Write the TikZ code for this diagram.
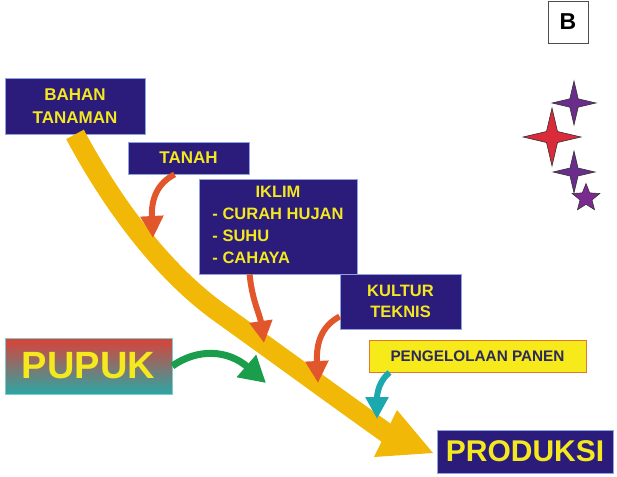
\documentclass[tikz,border=0pt]{standalone}
\usepackage{fontspec}
\setmainfont{Liberation Sans}
\usetikzlibrary{arrows.meta,shapes.geometric}
\definecolor{navy}{HTML}{2B1B7A}
\definecolor{boxedge}{HTML}{8FA4DE}
\definecolor{ylw}{HTML}{F4E81F}
\definecolor{gold}{HTML}{F2B808}
\definecolor{orng}{HTML}{E2562B}
\definecolor{grn}{HTML}{1B9E4B}
\definecolor{tealc}{HTML}{1BA8AE}
\definecolor{pupuktop}{HTML}{DA4238}
\definecolor{pupukbot}{HTML}{2BA6A6}
\definecolor{pengfill}{HTML}{F6EA1A}
\definecolor{pengedge}{HTML}{E07A2A}
\definecolor{pengtext}{HTML}{2B2A5A}
\definecolor{starpurple}{HTML}{6B2D8C}
\definecolor{starred}{HTML}{D92B3A}
\definecolor{starmag}{HTML}{7B2A90}
\tikzset{
  navybox/.style={draw=boxedge, line width=0.8pt, fill=navy, text=ylw, inner sep=0pt, align=center},
  smallarr/.style={line width=6pt, -{Triangle[length=22pt,width=22pt]}},
  pics/fourstar/.style={code={\draw[line width=0.6pt,draw=black!80,fill=#1]
     (0,-1)--(0.19,-0.19)--(1,0)--(0.19,0.19)--(0,1)--(-0.19,0.19)--(-1,0)--(-0.19,-0.19)--cycle;}}
}
\begin{document}
\begin{tikzpicture}[x=1pt,y=-1pt]
\useasboundingbox (0,0) rectangle (617,476);

% boxes
\node[navybox, minimum width=140pt, minimum height=56pt, font=\fontsize{17}{23}\selectfont\bfseries] (bahan) at (75,106) {BAHAN\\TANAMAN};
\node[navybox, minimum width=121pt, minimum height=32pt, font=\fontsize{17}{20}\selectfont\bfseries] (tanah) at (188.5,158) {TANAH};
\node[navybox, minimum width=158pt, minimum height=95pt, font=\fontsize{16.5}{22.5}\selectfont\bfseries] (iklim) at (278,226.5)
  {\renewcommand{\arraystretch}{0.98}\begin{tabular}{@{}l@{}}\multicolumn{1}{@{}c@{}}{IKLIM}\\- CURAH HUJAN\\- SUHU\\- CAHAYA\end{tabular}};
\node[navybox, minimum width=121pt, minimum height=55pt, font=\fontsize{16.5}{21}\selectfont\bfseries] (kultur) at (400.5,301.5) {KULTUR\\TEKNIS};
\node[draw=pupukbot!60, line width=0.6pt, shade, top color=pupuktop, bottom color=pupukbot, text=ylw, inner sep=0pt,
      minimum width=167pt, minimum height=56pt, font=\fontsize{38}{40}\selectfont\bfseries] (pupuk) at (88.5,366) {PUPUK};
\node[draw=pengedge, line width=1pt, fill=pengfill, text=pengtext, inner sep=0pt,
      minimum width=217pt, minimum height=32pt, font=\fontsize{15.3}{18}\selectfont\bfseries] (peng) at (477.5,356) {PENGELOLAAN PANEN};
\node[navybox, minimum width=176pt, minimum height=43pt, font=\fontsize{30}{32}\selectfont\bfseries] (produksi) at (525,451.5) {PRODUKSI};
\node[draw=black!70, line width=0.8pt, fill=white, inner sep=0pt, minimum width=40pt, minimum height=42pt,
      font=\fontsize{23}{25}\selectfont\bfseries] (b) at (568,22) {B};

% big yellow arrow
\coordinate (headbase) at (388,434);
\coordinate (htop) at (397,410);
\coordinate (hbot) at (374,457);
\coordinate (htip) at (433,453);
\draw[gold, line width=20pt] (bahan.south) .. controls (110,200) and (160,270) .. (220,313)
   .. controls (280,356) and (340,400) .. (headbase);
\fill[gold] (htop) -- (htip) -- (hbot) -- cycle;

% small arrows
\coordinate (tTanah) at (153,238);
\coordinate (tIklim) at (264,343);
\coordinate (tKultur) at (318,383);
\coordinate (tPeng) at (377,419);
\coordinate (tPupuk) at (266,383);
\draw[smallarr, orng] ([xshift=47pt]tanah.south west) .. controls (158,183) and (151,198) .. (tTanah);
\draw[smallarr, orng] ([xshift=51pt]iklim.south west) .. controls (252,300) and (260,315) .. (tIklim);
\draw[smallarr, orng] ([yshift=-15pt]kultur.west) .. controls (322,326) and (316,342) .. (tKultur);
\draw[smallarr, tealc] ([xshift=21pt]peng.south west) .. controls (380,380) and (377,392) .. (tPeng);
\draw[grn, line width=7pt, -{Triangle[length=26pt,width=28pt]}] (pupuk.east) .. controls (198,348) and (228,350) .. (tPupuk);

% stars
\pic at (574,103) [scale=22] {fourstar=starpurple};
\pic at (552,137) [scale=29] {fourstar=starred};
\pic at (574,172) [scale=21] {fourstar=starpurple};
\node[star, star points=5, star point ratio=2.3, draw=black!80, line width=0.6pt, fill=starmag, inner sep=0pt, minimum size=29pt] (s5) at (586,198) {};
\end{tikzpicture}
\end{document}
